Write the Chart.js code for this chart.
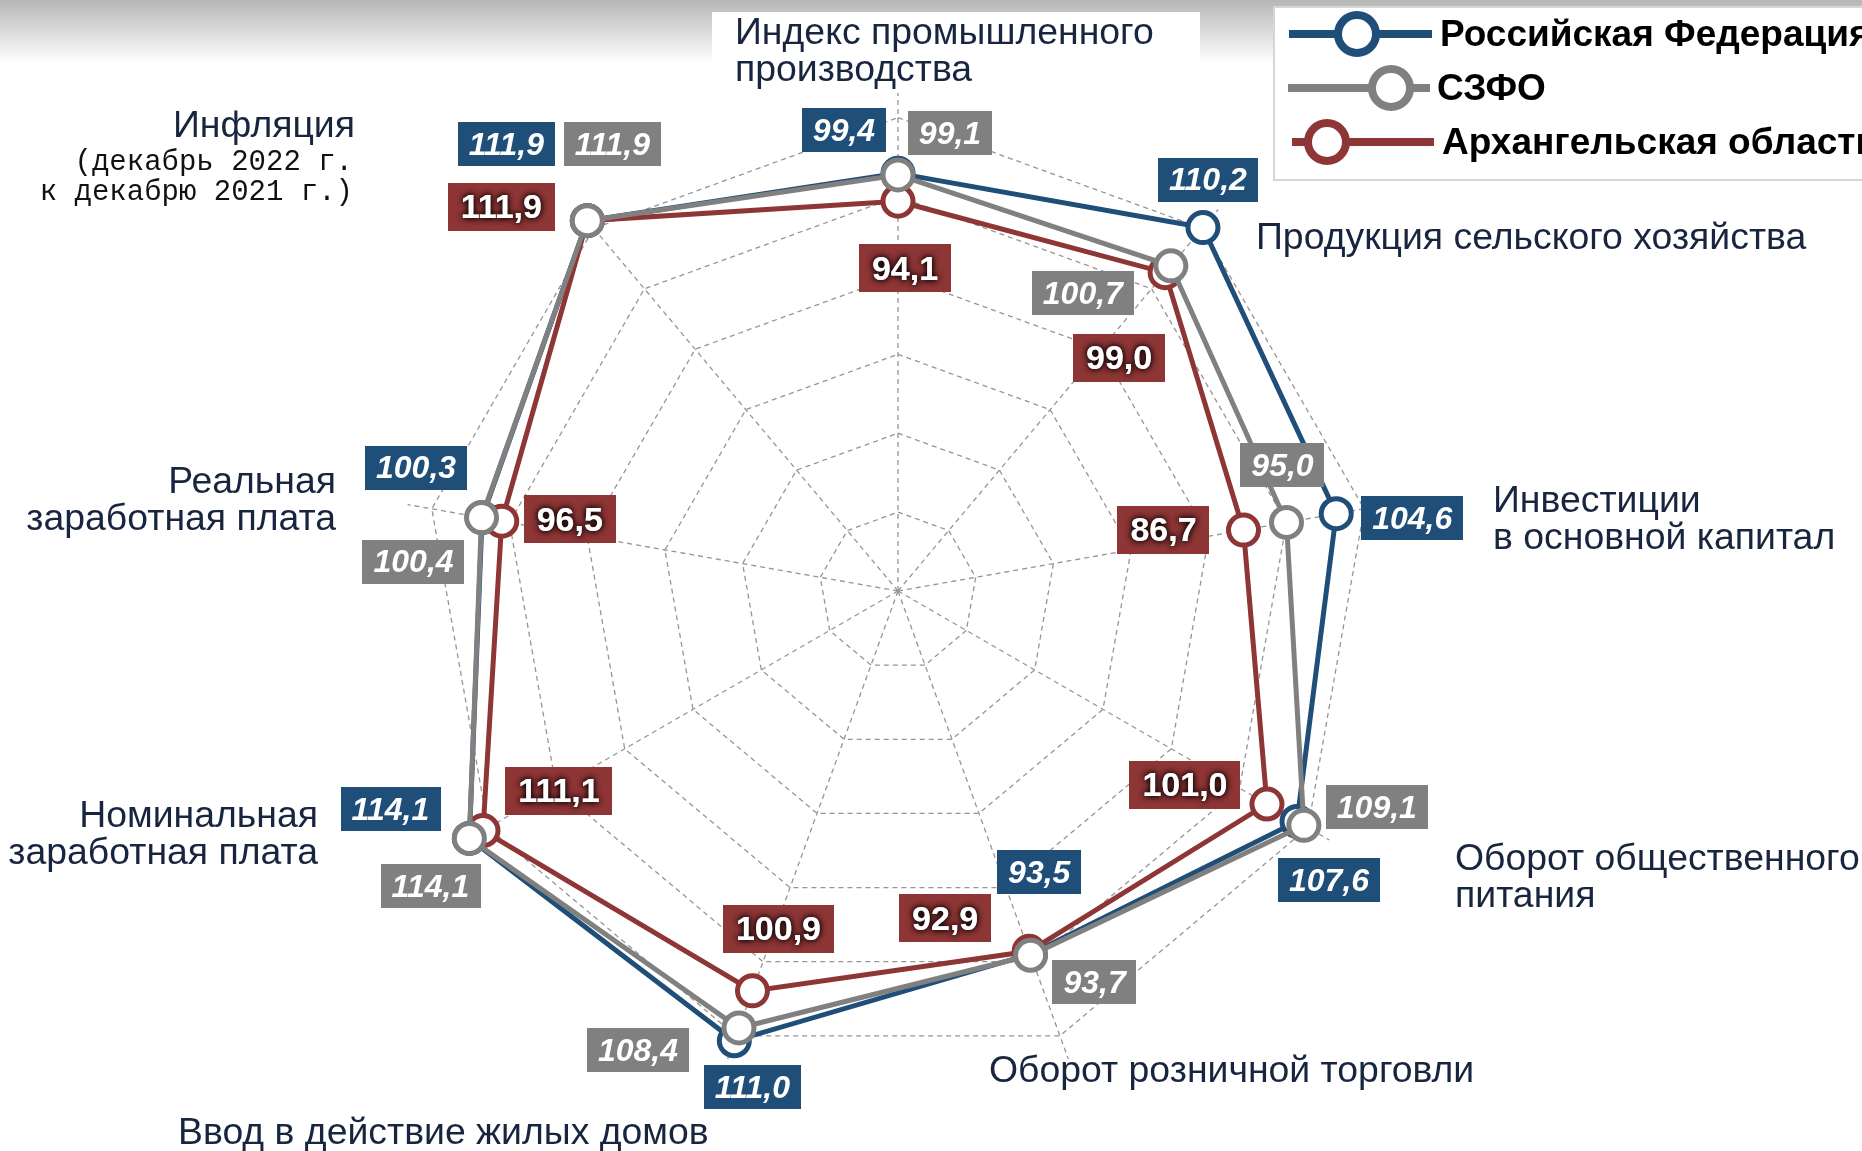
<!DOCTYPE html>
<html lang="ru">
<head>
<meta charset="utf-8">
<title>Показатели 2022</title>
<script src="https://cdn.jsdelivr.net/npm/chart.js@4.4.1/dist/chart.umd.min.js"></script>
<style>
    html, body { margin: 0; padding: 0; }
    body {
        width: 1862px; height: 1151px; overflow: hidden;
        background: linear-gradient(to bottom, #b6b6b6 0px, #d2d2d2 24px, #f0f0f0 50px, #ffffff 64px);
    }
    canvas { display: block; }
</style>
</head>
<body>
<canvas id="graphRadar" width="1862" height="1151"></canvas>
<script>

//Radar - Données
var categories = [
    ['Индекс промышленного', 'производства'],
    ['Продукция сельского хозяйства'],
    ['Инвестиции', 'в основной капитал'],
    ['Оборот общественного', 'питания'],
    ['Оборот розничной торговли'],
    ['Ввод в действие жилых домов'],
    ['Номинальная', 'заработная плата'],
    ['Реальная', 'заработная плата'],
    ['Инфляция', '(декабрь 2022 г.', 'к декабрю 2021 г.)']
];
var seriesNames = ['Российская Федерация', 'СЗФО', 'Архангельская область'];
var tab_RF = [99.4, 110.2, 104.6, 107.6, 93.5, 111.0, 114.1, 100.3, 111.9];
var tab_SZFO = [99.1, 100.7, 95.0, 109.1, 93.7, 108.4, 114.1, 100.4, 111.9];
var tab_Arkh = [94.1, 99.0, 86.7, 101.0, 92.9, 100.9, 111.1, 96.5, 111.9];
var gridTicks = [20, 35, 50, 65, 80, 95, 110];

var colRF = '#1F4E79';
var colSZFO = '#808080';
var colArkh = '#8E3535';
var colText = '#18253F';

//Radar - Placement des étiquettes (décalage par rapport au point)
var offRF = [[-54, -43], [5, -48], [76, 4], [32, 59], [9, -82], [18, 46], [-79, -29], [-66, -50], [-81, -77]];
var offSZFO = [[52, -42], [-88, 27], [-4, -57], [73, -18], [64, 27], [-101, 22], [-39, 48], [-68, 44], [25, -77]];
var offArkh = [[7, 67], [-46, 85], [-80, 0], [-82, -19], [-84, -33], [26, -62], [76, -40], [68, -2], [-86, -14]];

var catPos = [
    { x: 735, y: 34, align: 'left' },
    { x: 1256, y: 239, align: 'left' },
    { x: 1493, y: 502, align: 'left' },
    { x: 1455, y: 860, align: 'left' },
    { x: 989, y: 1072, align: 'left' },
    { x: 178, y: 1134, align: 'left' },
    { x: 318, y: 817, align: 'right' },
    { x: 336, y: 483, align: 'right' },
    { x: 355, y: 127, align: 'right' }
];

function fmt(v) {
    return v.toFixed(1).replace('.', ',');
}

//Étiquettes de valeurs
function drawValueBox(ctx, x, y, text, fill, font, pad, h, glow) {
    ctx.save();
    ctx.font = font;
    var w = ctx.measureText(text).width + pad * 2;
    ctx.fillStyle = fill;
    ctx.fillRect(Math.round(x - w / 2), Math.round(y - h / 2), Math.round(w), h);
    ctx.textAlign = 'center';
    ctx.textBaseline = 'middle';
    ctx.fillStyle = '#ffffff';
    if (glow) {
        ctx.shadowColor = 'rgba(0,0,0,0.9)';
        ctx.shadowBlur = 6;
        ctx.fillText(text, x, y + 2);
    }
    ctx.fillText(text, x, y + 2);
    ctx.restore();
}

var labelsPlugin = {
    id: 'labelsPlugin',
    beforeDraw: function (chart) {
        var ctx = chart.ctx;
        ctx.save();
        // fond blanc derrière le titre du haut
        ctx.fillStyle = '#ffffff';
        ctx.fillRect(712, 12, 488, 84);
        // cadre de la légende
        ctx.fillRect(1274, 7, 600, 173);
        ctx.strokeStyle = '#d6d6d6';
        ctx.lineWidth = 2;
        ctx.strokeRect(1274, 7, 600, 173);
        ctx.restore();
    },
    afterDatasetsDraw: function (chart) {
        var ctx = chart.ctx;
        var sets = [
            { idx: 0, off: offRF, font: 'italic bold 32px "Liberation Sans", Arial, sans-serif', pad: 11, h: 44, glow: false },
            { idx: 1, off: offSZFO, font: 'italic bold 32px "Liberation Sans", Arial, sans-serif', pad: 11, h: 44, glow: false },
            { idx: 2, off: offArkh, font: 'bold 34px "Liberation Sans", Arial, sans-serif', pad: 13, h: 48, glow: true }
        ];
        sets.forEach(function (s) {
            var ds = chart.data.datasets[s.idx];
            var meta = chart.getDatasetMeta(s.idx);
            meta.data.forEach(function (pt, i) {
                drawValueBox(ctx, pt.x + s.off[i][0], pt.y + s.off[i][1], fmt(ds.data[i]), ds.borderColor, s.font, s.pad, s.h, s.glow);
            });
        });
    },
    afterDraw: function (chart) {
        var ctx = chart.ctx;
        ctx.save();
        ctx.textBaseline = 'middle';
        // noms des axes
        categories.forEach(function (lines, i) {
            var p = catPos[i];
            ctx.textAlign = p.align;
            lines.forEach(function (line, j) {
                if (i === 8 && j > 0) {
                    ctx.font = '29px "Liberation Mono", "Courier New", monospace';
                    ctx.fillStyle = '#111111';
                    ctx.fillText(line, 353, j === 1 ? 162 : 192);
                } else {
                    ctx.font = '37.4px "Liberation Sans", Arial, sans-serif';
                    ctx.fillStyle = colText;
                    ctx.fillText(line, p.x, p.y + j * 37);
                }
            });
        });
        // légende
        var leg = [
            { y: 34, x1: 1289, x2: 1432, mx: 1357, tx: 1440 },
            { y: 88, x1: 1288, x2: 1430, mx: 1391, tx: 1437 },
            { y: 142, x1: 1292, x2: 1434, mx: 1327, tx: 1442 }
        ];
        leg.forEach(function (l, i) {
            var c = chart.data.datasets[i].borderColor;
            ctx.strokeStyle = c;
            ctx.lineWidth = 8;
            ctx.beginPath();
            ctx.moveTo(l.x1, l.y);
            ctx.lineTo(l.x2, l.y);
            ctx.stroke();
            ctx.beginPath();
            ctx.arc(l.mx, l.y, 19, 0, Math.PI * 2);
            ctx.fillStyle = '#ffffff';
            ctx.fill();
            ctx.stroke();
            ctx.font = 'bold 37px "Liberation Sans", Arial, sans-serif';
            ctx.fillStyle = '#000000';
            ctx.textAlign = 'left';
            ctx.fillText(seriesNames[i], l.tx, l.y + 2);
        });
        ctx.restore();
    }
};

function DisplayGraphRadar(graphId) {
    var ctx = document.getElementById(graphId).getContext('2d');
    var chart = new Chart(ctx, {
        type: 'radar',
        data: {
            labels: categories,
            datasets: [{
                label: seriesNames[0],
                data: tab_RF,
                borderColor: colRF,
                order: 3
            }, {
                label: seriesNames[1],
                data: tab_SZFO,
                borderColor: colSZFO,
                order: 1
            }, {
                label: seriesNames[2],
                data: tab_Arkh,
                borderColor: colArkh,
                order: 2
            }]
        },
        options: {
            responsive: false,
            animation: false,
            devicePixelRatio: 1,
            layout: {
                padding: { left: 400, top: 93, right: 466, bottom: 62 }
            },
            elements: {
                line: { borderWidth: 5, tension: 0, fill: false },
                point: { radius: 15, borderWidth: 5, backgroundColor: '#ffffff', hoverRadius: 15 }
            },
            plugins: {
                legend: { display: false },
                tooltip: { enabled: false }
            },
            scales: {
                r: {
                    min: 20,
                    max: 114.68,
                    afterBuildTicks: function (scale) {
                        scale.ticks = gridTicks.map(function (v) { return { value: v }; });
                    },
                    ticks: { display: false },
                    pointLabels: { display: false },
                    grid: { color: '#959595', lineWidth: 1.3 },
                    border: { dash: [5, 4] },
                    angleLines: { color: '#959595', lineWidth: 1.3, borderDash: [5, 4] }
                }
            }
        },
        plugins: [labelsPlugin]
    });
    return chart;
}

DisplayGraphRadar('graphRadar');
</script>
</body>
</html>
